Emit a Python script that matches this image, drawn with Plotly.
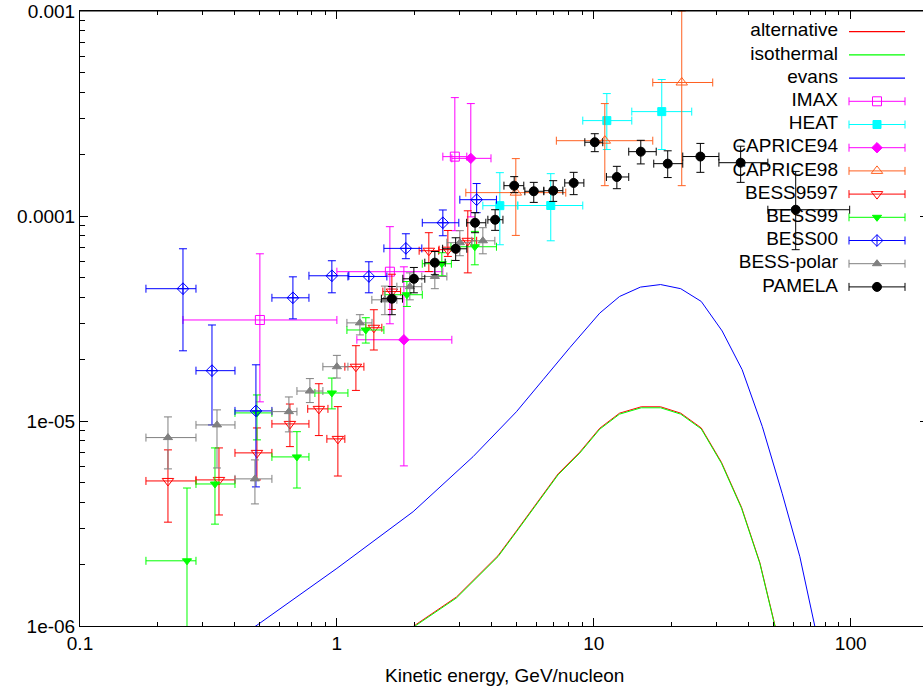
import plotly.graph_objects as go
import numpy as np

# ---------------- model curves ----------------
evans_energy = [0.45, 0.50, 1.00, 1.98, 3.39, 5.00, 6.35, 8.07, 10.55, 12.6, 15.2, 18.2, 21.8, 26.2, 31.6, 37.8, 45.3, 54.1, 63.4, 72.4, 75.0]
evans_ratio = [0.94e-6, 1.03e-6, 1.91e-6, 3.61e-6, 6.70e-6, 1.11e-5, 1.59e-5, 2.28e-5, 3.36e-5, 4.05e-5, 4.50e-5, 4.63e-5, 4.42e-5, 3.83e-5, 2.75e-5, 1.78e-5, 9.39e-6, 4.44e-6, 2.18e-6, 1.01e-6, 0.82e-6]

iso_energy = [1.92, 2.04, 2.92, 4.24, 5.0, 7.26, 8.82, 10.55, 12.6, 15.3, 18.2, 21.8, 26.2, 31.4, 37.6, 44.3, 50.6, 52.0]
isothermal_ratio = [0.955e-6, 1.01e-6, 1.37e-6, 2.18e-6, 2.88e-6, 5.46e-6, 6.97e-6, 9.12e-6, 1.08e-5, 1.16e-5, 1.16e-5, 1.08e-5, 9.15e-6, 6.22e-6, 3.75e-6, 2.02e-6, 1.01e-6, 0.88e-6]
alternative_ratio = [0.965e-6, 1.02e-6, 1.385e-6, 2.205e-6, 2.91e-6, 5.52e-6, 7.05e-6, 9.22e-6, 1.092e-5, 1.173e-5, 1.173e-5, 1.092e-5, 9.25e-6, 6.29e-6, 3.79e-6, 2.04e-6, 1.02e-6, 0.89e-6]

# ---------------- measurements (E, E_low, E_high, ratio, ratio_low, ratio_high) ----------------
imax_E = [0.5015, 1.608, 2.878]
imax_Elo = [0.2517, 1.0, 2.585]
imax_Ehi = [1.0, 2.585, 3.204]
imax_R = [3.11e-5, 5.35e-5, 1.948e-4]
imax_Rlo = [1.24e-5, 2.98e-5, 8.48e-5]
imax_Rhi = [6.54e-5, 8.87e-5, 3.78e-4]

heat_E = [4.309, 6.80, 11.24, 18.39]
heat_Elo = [3.70, 5.06, 9.06, 14.06]
heat_Ehi = [5.06, 9.06, 14.06, 24.06]
heat_R = [1.123e-4, 1.125e-4, 2.92e-4, 3.23e-4]
heat_Rlo = [7.24e-5, 7.57e-5, 2.11e-4, 2.11e-4]
heat_Rhi = [1.627e-4, 1.609e-4, 3.955e-4, 4.63e-4]

caprice94_E = [1.823, 3.321]
caprice94_Elo = [1.196, 2.802]
caprice94_Ehi = [2.802, 3.98]
caprice94_R = [2.49e-5, 1.911e-4]
caprice94_Rlo = [6.04e-6, 9.9e-5]
caprice94_Rhi = [5.65e-5, 3.535e-4]

caprice98_E = [4.972, 11.04, 22.0]
caprice98_Elo = [3.176, 7.15, 16.97]
caprice98_Ehi = [7.78, 16.97, 29.04]
caprice98_R = [1.30e-4, 2.33e-4, 4.48e-4]
caprice98_Rlo = [8.04e-5, 1.406e-4, 1.406e-4]
caprice98_Rhi = [1.905e-4, 3.535e-4, 1.0e-3]

bess9597_E = [0.22, 0.3475, 0.4884, 0.6563, 0.851, 1.009, 1.186, 1.393, 1.637, 2.28, 2.704, 3.233]
bess9597_Elo = [0.1806, 0.2828, 0.4011, 0.5586, 0.77, 0.914, 1.074, 1.296, 1.51, 2.09, 2.5, 3.01]
bess9597_Ehi = [0.2828, 0.4011, 0.5586, 0.7784, 0.923, 1.074, 1.274, 1.496, 1.77, 2.49, 2.93, 3.5]
bess9597_R = [5.10e-6, 5.16e-6, 6.99e-6, 9.68e-6, 1.146e-5, 8.18e-6, 1.84e-5, 2.85e-5, 4.28e-5, 6.77e-5, 6.85e-5, 7.57e-5]
bess9597_Rlo = [3.21e-6, 3.48e-6, 5.16e-6, 7.50e-6, 8.49e-6, 5.39e-6, 1.41e-5, 2.22e-5, 3.5e-5, 5.36e-5, 6.35e-5, 5.28e-5]
bess9597_Rhi = [7.23e-6, 7.39e-6, 9.25e-6, 1.21e-5, 1.52e-5, 1.175e-5, 2.33e-5, 3.49e-5, 5.2e-5, 8.29e-5, 8.5e-5, 1.06e-4]

bess99_E = [0.2609, 0.3353, 0.4884, 0.6988, 0.956, 1.296, 1.873, 2.562, 3.443]
bess99_Elo = [0.1806, 0.2828, 0.4011, 0.5586, 0.821, 1.094, 1.538, 2.15, 2.78]
bess99_Ehi = [0.2828, 0.4011, 0.5586, 0.7784, 1.104, 1.524, 2.15, 2.79, 4.18]
bess99_R = [2.08e-6, 4.93e-6, 1.095e-5, 6.68e-6, 1.37e-5, 2.78e-5, 4.13e-5, 5.85e-5, 7.08e-5]
bess99_Rlo = [4.0e-7, 3.14e-6, 8.09e-6, 4.71e-6, 1.146e-5, 2.40e-5, 3.62e-5, 5.11e-5, 5.78e-5]
bess99_Rhi = [4.71e-6, 7.39e-6, 1.34e-5, 8.87e-6, 1.62e-5, 3.19e-5, 4.79e-5, 6.62e-5, 8.41e-5]

bess00_E = [0.2517, 0.3264, 0.4840, 0.6742, 0.956, 1.332, 1.856, 2.585, 3.5]
bess00_Elo = [0.1806, 0.2828, 0.4011, 0.5586, 0.7784, 1.104, 1.524, 2.15, 3.01]
bess00_Ehi = [0.2828, 0.4011, 0.5586, 0.7784, 1.113, 1.565, 2.141, 2.983, 4.18]
bess00_R = [4.42e-5, 1.76e-5, 1.12e-5, 3.99e-5, 5.11e-5, 5.07e-5, 6.95e-5, 9.27e-5, 1.201e-4]
bess00_Rlo = [2.20e-5, 9.57e-6, 4.77e-6, 3.15e-5, 4.22e-5, 4.22e-5, 6.19e-5, 8.01e-5, 1.038e-4]
bess00_Rhi = [6.92e-5, 2.94e-5, 1.88e-5, 5.05e-5, 6.05e-5, 5.98e-5, 8.19e-5, 1.07e-4, 1.44e-4]

besspolar_E = [0.22, 0.3414, 0.4797, 0.6504, 0.785, 1.0, 1.229, 1.538, 1.923, 2.406, 3.01, 3.70]
besspolar_Elo = [0.1806, 0.2828, 0.4011, 0.5586, 0.699, 0.882, 1.094, 1.368, 1.712, 2.141, 2.68, 3.35]
besspolar_Ehi = [0.2828, 0.4011, 0.5586, 0.699, 0.882, 1.104, 1.37, 1.712, 2.141, 2.68, 3.35, 4.12]
besspolar_R = [8.30e-6, 9.57e-6, 5.22e-6, 1.111e-5, 1.40e-5, 1.84e-5, 3.01e-5, 3.90e-5, 4.52e-5, 5.07e-5, 7.41e-5, 7.57e-5]
besspolar_Rlo = [5.84e-6, 5.90e-6, 3.94e-6, 8.85e-6, 1.23e-5, 1.62e-5, 2.63e-5, 3.30e-5, 3.90e-5, 4.42e-5, 6.4e-5, 6.54e-5]
besspolar_Rhi = [1.047e-5, 1.133e-5, 6.46e-6, 1.31e-5, 1.61e-5, 2.09e-5, 3.30e-5, 4.55e-5, 5.28e-5, 5.78e-5, 8.48e-5, 8.77e-5]

pamela_E = [1.637, 1.994, 2.406, 2.90, 3.45, 4.13, 4.90, 5.84, 6.95, 8.35, 10.09, 12.3, 15.24, 19.4, 26.0, 37.3, 61.1]
pamela_Elo = [1.49, 1.806, 2.199, 2.58, 3.20, 3.87, 4.47, 5.39, 6.39, 7.71, 9.23, 11.2, 13.68, 17.12, 22.2, 30.7, 47.6]
pamela_Ehi = [1.80, 2.199, 2.64, 3.204, 3.80, 4.43, 5.34, 6.39, 7.58, 9.15, 10.84, 13.68, 17.5, 22.2, 30.7, 47.6, 99.1]
pamela_R = [3.95e-5, 4.94e-5, 5.92e-5, 6.92e-5, 9.27e-5, 9.59e-5, 1.406e-4, 1.32e-4, 1.329e-4, 1.45e-4, 2.29e-4, 1.55e-4, 2.06e-4, 1.80e-4, 1.95e-4, 1.82e-4, 1.073e-4]
pamela_Rlo = [3.30e-5, 4.22e-5, 5.17e-5, 6.07e-5, 8.29e-5, 8.51e-5, 1.30e-4, 1.165e-4, 1.178e-4, 1.271e-4, 2.06e-4, 1.359e-4, 1.795e-4, 1.54e-4, 1.633e-4, 1.459e-4, 6.85e-5]
pamela_Rhi = [4.53e-5, 5.61e-5, 6.71e-5, 7.83e-5, 1.038e-4, 1.073e-4, 1.556e-4, 1.459e-4, 1.487e-4, 1.633e-4, 2.52e-4, 1.747e-4, 2.34e-4, 2.08e-4, 2.26e-4, 2.19e-4, 1.65e-4]

x_tick_vals = [0.1, 1, 10, 100]
x_tick_text = ["0.1", "1", "10", "100"]
y_tick_vals = [1e-6, 1e-5, 1e-4, 1e-3]
y_tick_text = ["1e-06", "1e-05", "0.0001", "0.001"]

# ---------------- geometry ----------------
# page body margin is removed (post_script); the plot frame spans screen pixels
# x 80..928 (right border just outside the 923 px view) and y 11..626
OFF = 0
W, H = 928, 690
ML, MR, MT, MB = 80, 0, 11, 64
X_RANGE = [-1.0, np.log10(200.0)]
Y_RANGE = [-6.0, -3.0]
PW = W - ML - MR
PH = H - MT - MB
PLOT_L = OFF + ML
PLOT_T = OFF + MT


def px2x(px):
    return 10 ** (X_RANGE[0] + (px - PLOT_L) / PW * (X_RANGE[1] - X_RANGE[0]))


def py2y(py):
    return 10 ** (Y_RANGE[1] - (py - PLOT_T) / PH * (Y_RANGE[1] - Y_RANGE[0]))


FONT = "Liberation Sans, Arial, Helvetica, sans-serif"
fig = go.Figure()

series = [
    ("IMAX", imax_E, imax_Elo, imax_Ehi, imax_R, imax_Rlo, imax_Rhi, "#ff00ff", "square-open", 9),
    ("HEAT", heat_E, heat_Elo, heat_Ehi, heat_R, heat_Rlo, heat_Rhi, "#00ffff", "square", 8),
    ("CAPRICE94", caprice94_E, caprice94_Elo, caprice94_Ehi, caprice94_R, caprice94_Rlo, caprice94_Rhi, "#ff00ff", "diamond", 8),
    ("CAPRICE98", caprice98_E, caprice98_Elo, caprice98_Ehi, caprice98_R, caprice98_Rlo, caprice98_Rhi, "#ff6020", "triangle-up-open", 10),
    ("BESS9597", bess9597_E, bess9597_Elo, bess9597_Ehi, bess9597_R, bess9597_Rlo, bess9597_Rhi, "#ff0000", "triangle-down-open", 10),
    ("BESS99", bess99_E, bess99_Elo, bess99_Ehi, bess99_R, bess99_Rlo, bess99_Rhi, "#00ff00", "triangle-down", 8),
    ("BESS00", bess00_E, bess00_Elo, bess00_Ehi, bess00_R, bess00_Rlo, bess00_Rhi, "#0000ff", "diamond-cross-open", 9),
    ("BESS-polar", besspolar_E, besspolar_Elo, besspolar_Ehi, besspolar_R, besspolar_Rlo, besspolar_Rhi, "#808080", "triangle-up", 8),
    ("PAMELA", pamela_E, pamela_Elo, pamela_Ehi, pamela_R, pamela_Rlo, pamela_Rhi, "#000000", "circle", 9),
]
curves = [
    ("alternative", iso_energy, alternative_ratio, "#ff0000"),
    ("isothermal", iso_energy, isothermal_ratio, "#00ff00"),
    ("evans", evans_energy, evans_ratio, "#0000ff"),
]

# legend layout (screen pixel positions)
LEG_TEXT_RIGHT = 838
LEG_SAMPLE_L, LEG_SAMPLE_R = 849, 905
LEG_ROW0, LEG_DY = 31.7, 23.2
names = [c[0] for c in curves] + [s[0] for s in series]
rows = [LEG_ROW0 + i * LEG_DY for i in range(len(names))]

# legend labels (drawn under the data)
fig.add_trace(go.Scatter(
    x=[px2x(LEG_TEXT_RIGHT)] * len(names), y=[py2y(r) for r in rows],
    mode="text", text=names, textposition="middle left",
    textfont=dict(family=FONT, size=19, color="black"),
    hoverinfo="skip", showlegend=False))

# model curves
for i, (name, ex, ry, col) in enumerate(curves):
    fig.add_trace(go.Scatter(x=ex, y=ry, mode="lines", line=dict(color=col, width=1),
                             name=name, showlegend=False))
    fig.add_trace(go.Scatter(x=[px2x(LEG_SAMPLE_L), px2x(LEG_SAMPLE_R)], y=[py2y(rows[i])] * 2,
                             mode="lines", line=dict(color=col, width=1.3), hoverinfo="skip", showlegend=False))

# data sets
for j, (name, E, Elo, Ehi, R, Rlo, Rhi, col, sym, size) in enumerate(series):
    E, Elo, Ehi = np.array(E), np.array(Elo), np.array(Ehi)
    R, Rlo, Rhi = np.array(R), np.array(Rlo), np.array(Rhi)
    fig.add_trace(go.Scatter(
        x=E, y=R, mode="markers", name=name, showlegend=False,
        marker=dict(symbol=sym, size=size, color=col, line=dict(color=col, width=1)),
        error_x=dict(type="data", symmetric=False, array=Ehi - E, arrayminus=E - Elo,
                     color=col, thickness=1, width=4),
        error_y=dict(type="data", symmetric=False, array=Rhi - R, arrayminus=R - Rlo,
                     color=col, thickness=1, width=4),
    ))
    row = rows[len(curves) + j]
    cx = px2x((LEG_SAMPLE_L + LEG_SAMPLE_R) / 2)
    fig.add_trace(go.Scatter(
        x=[cx], y=[py2y(row)], mode="markers", hoverinfo="skip", showlegend=False,
        marker=dict(symbol=sym, size=size, color=col, line=dict(color=col, width=1)),
        error_x=dict(type="data", symmetric=False, array=[px2x(LEG_SAMPLE_R) - cx],
                     arrayminus=[cx - px2x(LEG_SAMPLE_L)], color=col, thickness=1, width=4),
    ))

x_minor = [m * 10 ** d for d in range(-1, 3) for m in range(2, 10)]
y_minor = [m * 10 ** d for d in range(-6, -3) for m in range(2, 10)]

fig.update_layout(
    width=W, height=H, margin=dict(l=ML, r=MR, t=MT, b=MB, autoexpand=False),
    paper_bgcolor="white", plot_bgcolor="white", showlegend=False,
    font=dict(family=FONT, size=19, color="black"),
)
fig.update_xaxes(
    type="log", range=X_RANGE, tickmode="array", tickvals=x_tick_vals, ticktext=x_tick_text,
    ticks="inside", ticklen=8, tickwidth=1, tickcolor="black",
    showline=True, linecolor="black", linewidth=1, mirror="allticks",
    showgrid=False, zeroline=False, ticklabelstandoff=0, ticklabeloverflow="allow",
    tickfont=dict(family=FONT, size=19, color="black"),
    minor=dict(tickmode="array", tickvals=x_minor, ticks="inside", ticklen=4,
               tickcolor="black", showgrid=False),
)
fig.update_yaxes(
    type="log", range=Y_RANGE, tickmode="array", tickvals=y_tick_vals, ticktext=y_tick_text,
    ticks="inside", ticklen=8, tickwidth=1, tickcolor="black",
    showline=True, linecolor="black", linewidth=1, mirror="allticks",
    showgrid=False, zeroline=False, ticklabelstandoff=0, ticklabeloverflow="allow",
    tickfont=dict(family=FONT, size=19, color="black"),
    minor=dict(tickmode="array", tickvals=y_minor, ticks="inside", ticklen=5,
               tickcolor="black", showgrid=False),
)
# top border of the frame
fig.add_shape(type="line", xref="paper", yref="paper", x0=0, x1=1, y0=1, y1=1,
              line=dict(color="black", width=1), layer="above")
fig.add_annotation(text="Kinetic energy, GeV/nucleon", xref="paper", yref="paper",
                   x=(504 - PLOT_L) / PW, y=-(675 - (PLOT_T + PH)) / PH, xanchor="center", yanchor="middle",
                   showarrow=False, font=dict(family=FONT, size=19, color="black"))

fig.write_html("out.html", config={"displayModeBar": False, "staticPlot": True},
               post_script="document.body.style.margin='0px';document.body.style.overflow='hidden';")
